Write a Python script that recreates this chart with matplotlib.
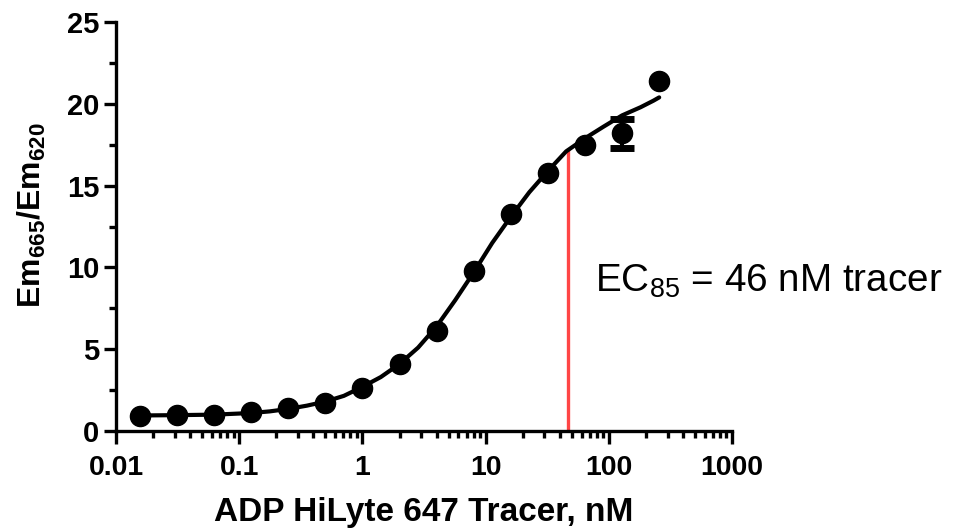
import numpy as np
import matplotlib
matplotlib.use('Agg')
import matplotlib.pyplot as plt
from matplotlib.ticker import FixedLocator, MultipleLocator

plt.rcParams['font.family'] = ['Liberation Sans', 'DejaVu Sans']
plt.rcParams['mathtext.fontset'] = 'custom'
plt.rcParams['mathtext.rm'] = 'Liberation Sans'
plt.rcParams['mathtext.bf'] = 'Liberation Sans:bold'

# measured points (tracer nM vs ratio)
tracer = [0.0156, 0.03125, 0.0625, 0.125, 0.25, 0.5, 1, 2, 4, 8, 16, 32, 64, 128, 256]
ratio = [0.92, 0.98, 0.98, 1.16, 1.4, 1.7, 2.6, 4.1, 6.1, 9.8, 13.3, 15.8, 17.5, 18.2, 21.4]
ratio_err = [0, 0, 0, 0, 0, 0, 0, 0, 0, 0, 0, 0, 0, 0.9, 0]

# fitted curve
fit_x = [0.0156, 0.03125, 0.0625, 0.125, 0.177, 0.25, 0.354, 0.5, 0.707, 1, 1.41, 2,
         2.83, 4, 5.66, 8, 11.3, 16, 22.6, 32, 45, 64, 90, 128, 181, 230, 256]
fit_y = [0.95, 0.97, 1.0, 1.1, 1.2, 1.35, 1.55, 1.8, 2.15, 2.7, 3.3, 4.1,
         5.1, 6.4, 8.0, 9.7, 11.5, 13.1, 14.6, 15.9, 17.1, 17.9, 18.6, 19.3, 19.8, 20.2, 20.4]

ec85 = 47
ec85_y = 17.2

xticks = [0.01, 0.1, 1, 10, 100, 1000]
xticklabels = ['0.01', '0.1', '1', '10', '100', '1000']
yticks = [0, 5, 10, 15, 20, 25]

fig = plt.figure(figsize=(9.57, 5.28), dpi=100)
ax = fig.add_axes([0.1212, 0.1837, 0.6438, 0.7743])

tracer = np.array(tracer)
ratio = np.array(ratio)
ratio_err = np.array(ratio_err)
has_err = ratio_err > 0

ax.plot(fit_x, fit_y, color='black', lw=3, solid_capstyle='round', zorder=2)
ax.plot(tracer, ratio, 'o', color='black', ms=14.5, zorder=3)
ax.errorbar(tracer[has_err], ratio[has_err], yerr=ratio_err[has_err], fmt='none',
            ecolor='black', elinewidth=3, capsize=8.5, capthick=5, zorder=3)
ax.plot([ec85, ec85], [0, ec85_y], color='#ff4545', lw=2.4, zorder=1)
fig.text(0.6217, 0.447, 'EC$_{85}$ = 46 nM tracer', fontsize=27.8, va='baseline', ha='left')

ax.set_xscale('log')
ax.set_xlim(0.01, 1000)
ax.set_ylim(0, 25)
ax.xaxis.set_major_locator(FixedLocator(xticks))
ax.set_xticklabels(xticklabels)
ax.yaxis.set_major_locator(FixedLocator(yticks))
ax.yaxis.set_minor_locator(MultipleLocator(2.5))

for s in ['top', 'right']:
    ax.spines[s].set_visible(False)
for s in ['left', 'bottom']:
    ax.spines[s].set_linewidth(2.4)

ax.tick_params(which='major', length=9, width=2.4, labelsize=20.5)
ax.tick_params(axis='x', which='major', pad=8)
ax.tick_params(axis='y', which='major', pad=3, labelsize=21)
ax.tick_params(which='minor', length=5, width=2.4)
for lab in ax.get_xticklabels() + ax.get_yticklabels():
    lab.set_fontweight('bold')

ax.set_xlabel('ADP HiLyte 647 Tracer, nM', fontsize=24, fontweight='bold', labelpad=11.5)
ax.set_ylabel(r'$\mathbf{Em_{665}/Em_{620}}$', fontsize=23)
ax.yaxis.set_label_coords(-0.111, 0.528)

fig.savefig('out.png', dpi=100)
